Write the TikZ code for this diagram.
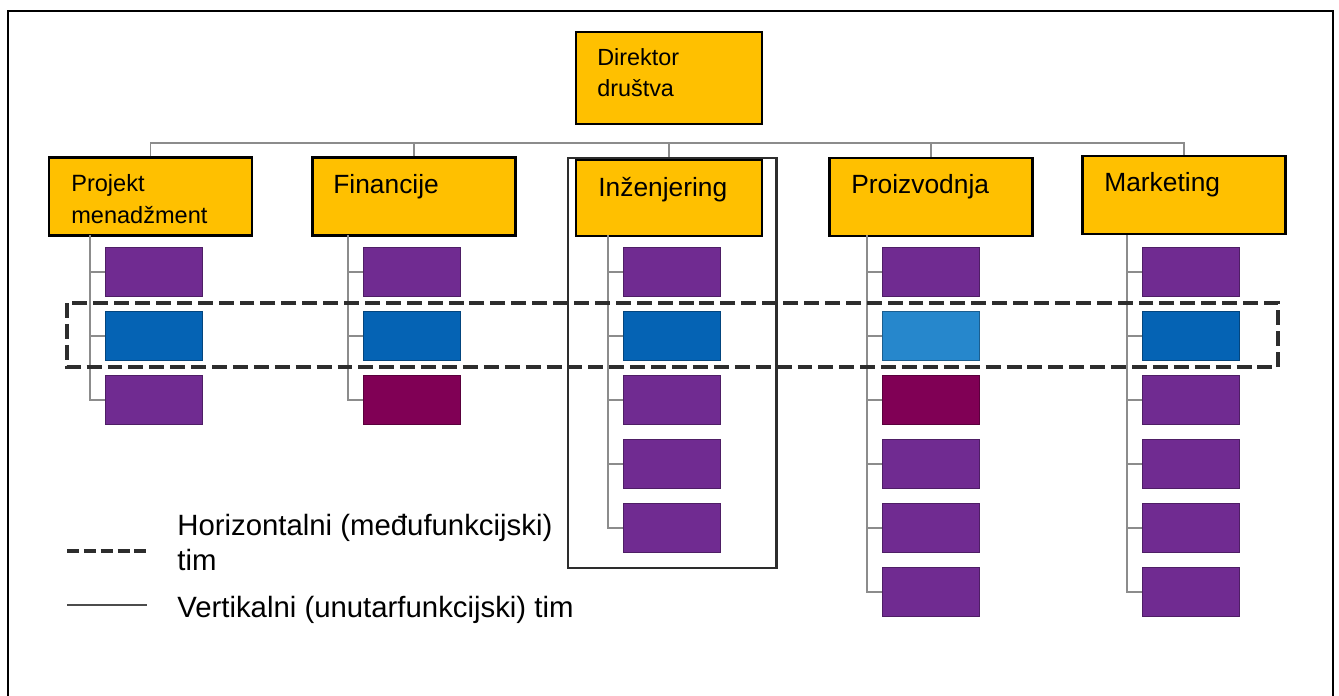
\documentclass[tikz,border=0pt]{standalone}
\usepackage{fontspec}
\setmainfont{Liberation Sans}
\usetikzlibrary{positioning}

\definecolor{deptgold}{RGB}{255,192,0}
\definecolor{uP}{RGB}{112,43,145}
\definecolor{uB}{RGB}{5,99,180}
\definecolor{uL}{RGB}{38,135,204}
\definecolor{uM}{RGB}{128,0,85}
\definecolor{connGray}{RGB}{140,140,140}
\definecolor{teamGray}{RGB}{45,45,45}

\tikzset{
  dept/.style={draw=black, fill=deptgold, line width=1.3pt, minimum width=4.06cm, minimum height=1.56cm, inner sep=0pt},
  deptlbl/.style={anchor=base west, inner sep=0pt, align=left, font=\fontsize{15}{18}\selectfont},
  unit/.style={draw=#1!70!black, fill=#1, line width=0.5pt, minimum width=1.94cm, minimum height=0.98cm, inner sep=0pt, anchor=west},
  conn/.style={draw=connGray, line width=1pt},
  hteam/.style={draw=teamGray, line width=1.9pt, dash pattern=on 8.5pt off 3.4pt},
  vteam/.style={draw=teamGray, line width=1.7pt},
  legtxt/.style={anchor=base west, inner sep=0pt, font=\fontsize{16.7}{20}\selectfont}
}

\begin{document}
\begin{tikzpicture}[x=0.02cm, y=-0.02cm]
      \useasboundingbox (0,0) rectangle (1339,696);
      % Frame
      \draw[line width=1.1pt] (8,696) |- (1333,11) -- (1333,696);

      % Director and departments
      \node[dept, minimum width=3.72cm, minimum height=1.84cm] (dir) at (669,78) {};
      \node[deptlbl, font=\fontsize{13.3}{18.1}\selectfont] (dirT) at (597,97) {Direktor\\društva};
      \node[dept] (pm) at (150.5,196.5) {};
      \node[deptlbl, font=\fontsize{13.4}{18.1}\selectfont] (pmT) at (71,223) {Projekt\\menadžment};
      \node[dept] (fin) at (414,196.5) {};
      \node[deptlbl] (finT) at (333,194) {Financije};
      \node[dept, minimum width=3.72cm, minimum height=1.52cm] (ing) at (669,198) {};
      \node[deptlbl] (ingT) at (598,196) {Inženjering};
      \node[dept] (pro) at (931,197) {};
      \node[deptlbl] (proT) at (851,194) {Proizvodnja};
      \node[dept] (mk) at (1184,195) {};
      \node[deptlbl] (mkT) at (1104,192) {Marketing};

      % Bus
      \coordinate (bus) at (0,143);
      \draw[conn] (pm.north) |- (mk.north |- bus) -- (mk.north);
      \foreach \d in {fin,ing,pro} \draw[conn] (\d.north) -- (\d.north |- bus);

      % Units under each department
      \foreach \col/\sx/\units in {pm/90/{uP,uB,uP}, fin/348/{uP,uB,uM}, ing/608/{uP,uB,uP,uP,uP},
                                  pro/867/{uP,uL,uM,uP,uP,uP}, mk/1127/{uP,uB,uP,uP,uP,uP}}{
        \coordinate (\col s) at (\sx,235);
        \foreach \c [count=\i] in \units {
          \node[unit=\c] (\col\i) at (\sx+15,208+64*\i) {};
          \draw[conn] (\col\i.west) -| (\col s);
        }
      }

      % Teams
      \draw[hteam] (67,303) rectangle (1278,367);
      \draw[vteam] (568,158) rectangle (776,568);

      % Legend
      \draw[hteam, line width=1.8pt, dash pattern=on 6.8pt off 2.8pt] (67,551) -- (147,551);
      \draw[vteam, draw=teamGray!85] (67,605) -- (147,605);
      \node[legtxt] (legH) at (177,535) {Horizontalni (međufunkcijski)};
      \node[legtxt] (legH2) at (177,570) {tim};
      \node[legtxt] (legV) at (177,617) {Vertikalni (unutarfunkcijski) tim};
    \end{tikzpicture}
\end{document}
